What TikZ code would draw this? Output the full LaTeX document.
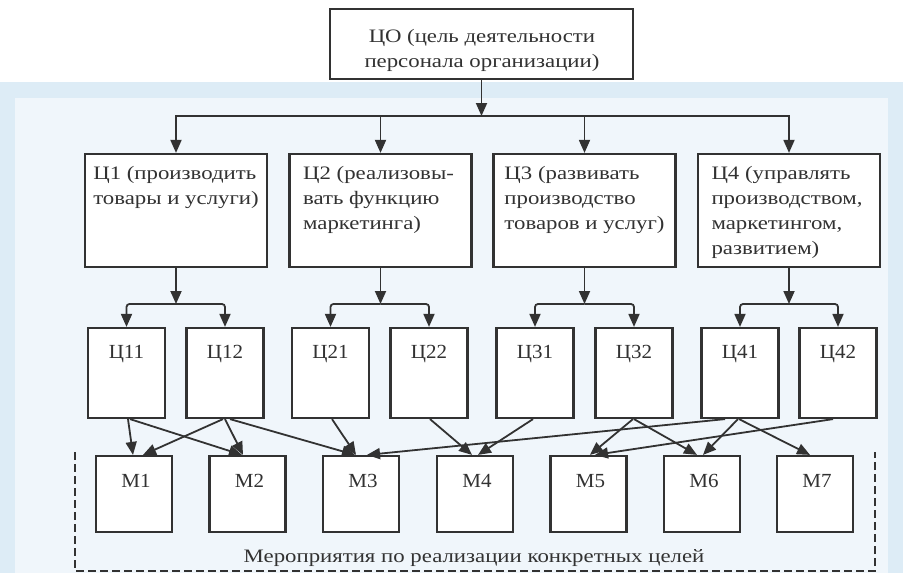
\documentclass[tikz,border=0pt]{standalone}
\usepackage{fontspec}
\setmainfont{Liberation Serif}[FakeStretch=1.2]
\newfontfamily\labf{Liberation Serif}[FakeStretch=1.05]
\usetikzlibrary{arrows.meta,calc}
\definecolor{ln}{RGB}{50,50,50}
\definecolor{bgband}{RGB}{221,236,246}
\definecolor{bginner}{RGB}{240,246,251}
\begin{document}
\begin{tikzpicture}[x=1pt,y=-1pt,
  box/.style={draw=ln,line width=2.2pt,fill=white,inner sep=0pt},
  bigbox/.style={box,minimum width=182pt,minimum height=113pt},
  smallbox/.style={box,minimum width=77pt,minimum height=90pt},
  mbox/.style={box,minimum width=76pt,minimum height=76pt},
  arr/.style={draw=ln,line width=1.8pt,-{Triangle[length=13pt,width=11pt]}},
  ttext/.style={inner sep=0pt,text=ln,font=\fontsize{19}{25}\selectfont,align=center},
  btext/.style={inner sep=0pt,text=ln,font=\fontsize{19}{25}\selectfont,align=left,anchor=north},
  ltext/.style={inner sep=0pt,text=ln,font=\labf\fontsize{20}{22}\selectfont,anchor=base},
  frame/.style={draw=ln,line width=1.8pt,dash pattern=on 8pt off 4pt}
]
\useasboundingbox (0,0) rectangle (903,573);
% background
\fill[bgband] (0,82) rectangle (903,573);
\fill[bginner] (15,98) rectangle (888,573);

% top
\node[box,minimum width=303pt,minimum height=70pt] (c0) at (481.5,44) {};
\node[ttext,anchor=north] (c0t) at (482,29.5) {ЦО (цель деятельности\\персонала организации)};

% level 2
\node[bigbox] (c1) at (176,210.5) {};
\node[bigbox] (c2) at (380.5,210.5) {};
\node[bigbox] (c3) at (584.5,210.5) {};
\node[bigbox] (c4) at (789,210.5) {};
\node[btext] (c1t) at (176,166) {Ц1 (производить\\товары и услуги)};
\node[btext] (c2t) at (378.5,166) {Ц2 (реализовы-\\вать функцию\\маркетинга)};
\node[btext] (c3t) at (584.5,166) {Ц3 (развивать\\производство\\товаров и услуг)};
\node[btext] (c4t) at (787,166) {Ц4 (управлять\\производством,\\маркетингом,\\развитием)};

% level 3
\node[smallbox] (c11) at (126.5,373) {};
\node[smallbox] (c12) at (225,373) {};
\node[smallbox] (c21) at (330.5,373) {};
\node[smallbox] (c22) at (429,373) {};
\node[smallbox] (c31) at (535,373) {};
\node[smallbox] (c32) at (634,373) {};
\node[smallbox] (c41) at (740,373) {};
\node[smallbox] (c42) at (838,373) {};
\node[ltext] (c11t) at (126.5,358) {Ц11};
\node[ltext] (c12t) at (225,358) {Ц12};
\node[ltext] (c21t) at (330.5,358) {Ц21};
\node[ltext] (c22t) at (429,358) {Ц22};
\node[ltext] (c31t) at (535,358) {Ц31};
\node[ltext] (c32t) at (634,358) {Ц32};
\node[ltext] (c41t) at (740,358) {Ц41};
\node[ltext] (c42t) at (838,358) {Ц42};

% measures
\node[mbox] (m1) at (134,494) {};
\node[mbox] (m2) at (247.5,494) {};
\node[mbox] (m3) at (361,494) {};
\node[mbox] (m4) at (475,494) {};
\node[mbox] (m5) at (588.5,494) {};
\node[mbox] (m6) at (702,494) {};
\node[mbox] (m7) at (815,494) {};
\node[ltext] (m1t) at (136,487) {М1};
\node[ltext] (m2t) at (249.5,487) {М2};
\node[ltext] (m3t) at (363,487) {М3};
\node[ltext] (m4t) at (477,487) {М4};
\node[ltext] (m5t) at (590.5,487) {М5};
\node[ltext] (m6t) at (704,487) {М6};
\node[ltext] (m7t) at (817,487) {М7};

% dashed frame
\coordinate (fl) at (75,452);
\coordinate (fr) at (875,452);
\coordinate (fbl) at (75,571);
\coordinate (fbr) at (875,571);
\draw[frame] (fl) -- (fbl) -- (fbr) -- (fr);
\node[inner sep=0pt,text=ln,font=\fontsize{19}{22}\selectfont,anchor=base] (mt) at (474,562) {Мероприятия по реализации конкретных целей};

% tree connectors
\coordinate (j0) at (481.5,116);
\draw[arr] (c0.south) -- (j0);
\draw[arr] (j0) -| (c1.north);
\draw[arr] (j0) -| (c2.north);
\draw[arr] (j0) -| (c3.north);
\draw[arr] (j0) -| (c4.north);

\coordinate (j1) at (176,304);
\coordinate (j2) at (380.5,304);
\coordinate (j3) at (584.5,304);
\coordinate (j4) at (789,304);
\draw[arr] (c1.south) -- (j1);
\draw[arr] (c2.south) -- (j2);
\draw[arr] (c3.south) -- (j3);
\draw[arr] (c4.south) -- (j4);
\draw[arr,rounded corners=3pt] (j1) -| (c11.north);
\draw[arr,rounded corners=3pt] (j1) -| (c12.north);
\draw[arr,rounded corners=3pt] (j2) -| (c21.north);
\draw[arr,rounded corners=3pt] (j2) -| (c22.north);
\draw[arr,rounded corners=3pt] (j3) -| (c31.north);
\draw[arr,rounded corners=3pt] (j3) -| (c32.north);
\draw[arr,rounded corners=3pt] (j4) -| (c41.north);
\draw[arr,rounded corners=3pt] (j4) -| (c42.north);

% goals to measures
\draw[arr] ($(c11.south)+(1.5,0)$) -- ($(m1.north)+(-1,0)$);
\draw[arr] ($(c11.south)+(3.5,0)$) -- ($(m2.north)+(-5.5,0)$);
\draw[arr] ($(c12.south)+(-2,0)$) -- ($(m1.north)+(9,0)$);
\draw[arr] ($(c12.south)+(0,0)$) -- ($(m2.north)+(-4.5,0)$);
\draw[arr] ($(c12.south)+(5,0)$) -- ($(m3.north)+(-6,0)$);
\draw[arr] ($(c21.south)+(1.5,0)$) -- ($(m3.north)+(-5,0)$);
\draw[arr] ($(c41.south)+(-15,0)$) -- ($(m3.north)+(6,0)$);
\draw[arr] ($(c22.south)+(1,0)$) -- ($(m4.north)+(-3,0)$);
\draw[arr] ($(c31.south)+(-2,0)$) -- ($(m4.north)+(3,0)$);
\draw[arr] ($(c32.south)+(-1,0)$) -- ($(m5.north)+(1.5,0)$);
\draw[arr] ($(c42.south)+(-5,0)$) -- ($(m5.north)+(6.5,0)$);
\draw[arr] ($(c32.south)+(0,0)$) -- ($(m6.north)+(-5,0)$);
\draw[arr] ($(c41.south)+(-2,0)$) -- ($(m6.north)+(1,0)$);
\draw[arr] ($(c41.south)+(-1,0)$) -- ($(m7.north)+(-5,0)$);
\end{tikzpicture}
\end{document}
